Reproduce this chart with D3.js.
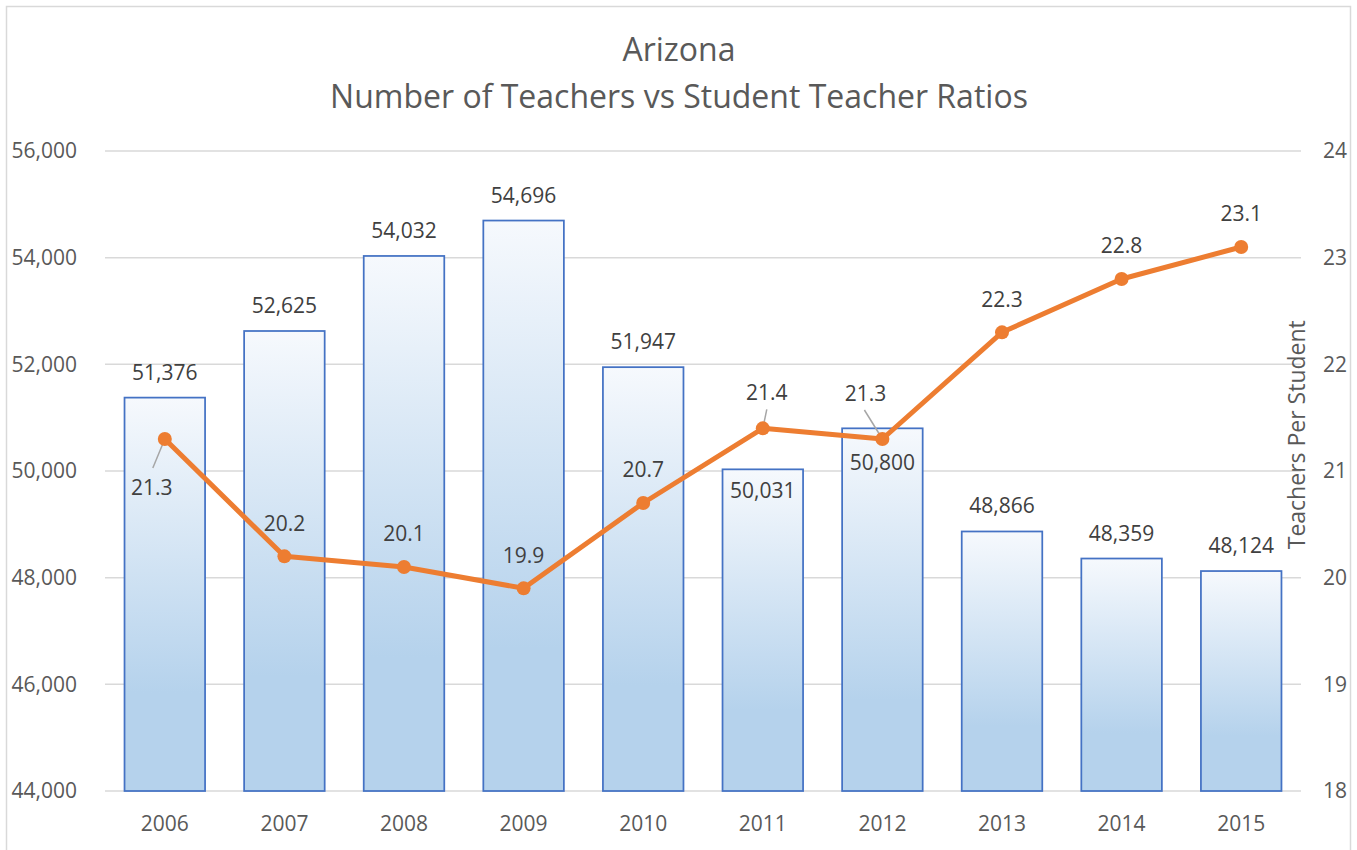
<!DOCTYPE html>
<html>
<head>
<meta charset="utf-8">
<script src="https://cdn.jsdelivr.net/npm/d3@7"></script>
<style>
  body { margin: 0; background: #fff; }
  svg { display: block; font-family: "Open Sans", Lato, sans-serif; }
</style>
</head>
<body>
<svg id="chart" width="1357" height="850"></svg>
<script>
// chart data
const years = ["2006", "2007", "2008", "2009", "2010", "2011", "2012", "2013", "2014", "2015"];
const teachers = [51376, 52625, 54032, 54696, 51947, 50031, 50800, 48866, 48359, 48124];
const ratios = [21.3, 20.2, 20.1, 19.9, 20.7, 21.4, 21.3, 22.3, 22.8, 23.1];
const leftTicks = [44000, 46000, 48000, 50000, 52000, 54000, 56000];
const rightTicks = [18, 19, 20, 21, 22, 23, 24];

let svg = d3.select("#chart");
let margin = {left: 105, right: 56, top: 151, bottom: 59};
let W = 1357, H = 850;
let fontFamily = "'Open Sans', Lato, sans-serif";

// outer frame
svg.append("rect")
  .attr("x", 6.5).attr("y", 6.5)
  .attr("width", 1344).attr("height", 860)
  .attr("fill", "#fff")
  .attr("stroke", "#d9d9d9")
  .attr("stroke-width", 1.5);

// title
let title = svg.append("text")
  .attr("text-anchor", "middle")
  .attr("fill", "#595959")
  .style("font-size", "32px");
title.append("tspan").attr("x", 679).attr("y", 61).text("Arizona");
title.append("tspan").attr("x", 679).attr("y", 108).text("Number of Teachers vs Student Teacher Ratios");

// scales
let x = d3.scaleBand()
  .domain(years)
  .range([margin.left, W - margin.right])
  .paddingInner(0.314)
  .paddingOuter(0.157);
let yLeft = d3.scaleLinear().domain([44000, 56000]).range([H - margin.bottom, margin.top]);
let yRight = d3.scaleLinear().domain([18, 24]).range([H - margin.bottom, margin.top]);

// gradient for bars
let grad = svg.append("defs").append("linearGradient")
  .attr("id", "barGrad")
  .attr("x1", 0).attr("y1", 0).attr("x2", 0).attr("y2", 1);
grad.append("stop").attr("offset", "0%").attr("stop-color", "#f6f9fd");
grad.append("stop").attr("offset", "75%").attr("stop-color", "#b5d2ec");
grad.append("stop").attr("offset", "100%").attr("stop-color", "#b5d2ec");

// gridlines
svg.append("g")
  .selectAll("line")
  .data(leftTicks)
  .join("line")
  .attr("x1", margin.left).attr("x2", W - margin.right)
  .attr("y1", d => yLeft(d)).attr("y2", d => yLeft(d))
  .attr("stroke", "#d9d9d9")
  .attr("stroke-width", 1.5);

// left axis
let leftAxis = svg.append("g")
  .attr("transform", `translate(${margin.left - 28},0)`)
  .call(d3.axisLeft(yLeft).tickValues(leftTicks).tickFormat(d3.format(",")).tickSize(0).tickPadding(0));
leftAxis.select(".domain").remove();
leftAxis.selectAll("text")
  .attr("fill", "#595959")
  .style("font-size", "21px")
  .style("font-family", fontFamily);

// right axis
let rightAxis = svg.append("g")
  .attr("transform", `translate(${W - margin.right + 22},0)`)
  .call(d3.axisRight(yRight).tickValues(rightTicks).tickFormat(d3.format("d")).tickSize(0).tickPadding(0));
rightAxis.select(".domain").remove();
rightAxis.selectAll("text")
  .attr("fill", "#595959")
  .style("font-size", "21px")
  .style("font-family", fontFamily);

// bottom axis
let bottomAxis = svg.append("g")
  .attr("transform", `translate(0,${H - margin.bottom})`)
  .call(d3.axisBottom(x).tickSize(0).tickPadding(25));
bottomAxis.select(".domain").remove();
bottomAxis.selectAll("text")
  .attr("fill", "#595959")
  .style("font-size", "21px")
  .style("font-family", fontFamily);

// right axis title
svg.append("text")
  .attr("transform", `translate(1305,${yRight(21.34)}) rotate(-90)`)
  .attr("text-anchor", "middle")
  .attr("fill", "#595959")
  .style("font-size", "23px")
  .text("Teachers Per Student");

// bars
let barData = years.map((y, i) => ({year: y, value: teachers[i]}));
svg.append("g")
  .selectAll("rect")
  .data(barData)
  .join("rect")
  .attr("x", d => x(d.year) + 0.75)
  .attr("y", d => yLeft(d.value))
  .attr("width", x.bandwidth() - 1.5)
  .attr("height", d => yLeft(44000) - yLeft(d.value))
  .attr("fill", "url(#barGrad)")
  .attr("stroke", "#4472c4")
  .attr("stroke-width", 1.75);

// bar labels, a couple sit inside the bar to avoid the line labels
let barLabelShift = {"2011": 47, "2012": 60};
svg.append("g")
  .selectAll("text")
  .data(barData)
  .join("text")
  .attr("x", d => x(d.year) + x.bandwidth() / 2)
  .attr("y", d => yLeft(d.value) - 18 + (barLabelShift[d.year] || 0))
  .attr("text-anchor", "middle")
  .attr("fill", "#404040")
  .style("font-size", "21px")
  .text(d => d3.format(",")(d.value));

// line series
let lineData = years.map((y, i) => ({year: y, value: ratios[i]}));
let cx = d => x(d.year) + x.bandwidth() / 2;

// label placements [dx, dy] and leader line starts
let lineLabelPos = {"2006": [-13, 49], "2011": [4, -36], "2012": [-17, -45]};
let leaders = {"2006": [-12, 29], "2011": [4, -19], "2012": [-18, -29]};

svg.append("g")
  .selectAll("line")
  .data(lineData.filter(d => leaders[d.year]))
  .join("line")
  .attr("x1", d => cx(d) + leaders[d.year][0])
  .attr("y1", d => yRight(d.value) + leaders[d.year][1])
  .attr("x2", d => cx(d))
  .attr("y2", d => yRight(d.value))
  .attr("stroke", "#a6a6a6")
  .attr("stroke-width", 1.5);

let line = d3.line()
  .x(d => cx(d))
  .y(d => yRight(d.value));

svg.append("path")
  .datum(lineData)
  .attr("d", line)
  .attr("fill", "none")
  .attr("stroke", "#ed7d31")
  .attr("stroke-width", 5)
  .attr("stroke-linejoin", "round");

svg.append("g")
  .selectAll("circle")
  .data(lineData)
  .join("circle")
  .attr("cx", d => cx(d))
  .attr("cy", d => yRight(d.value))
  .attr("r", 7)
  .attr("fill", "#ed7d31");

svg.append("g")
  .selectAll("text")
  .data(lineData)
  .join("text")
  .attr("x", d => cx(d) + (lineLabelPos[d.year] ? lineLabelPos[d.year][0] : 0))
  .attr("y", d => yRight(d.value) + (lineLabelPos[d.year] ? lineLabelPos[d.year][1] : -33))
  .attr("dy", "0.35em")
  .attr("text-anchor", "middle")
  .attr("fill", "#404040")
  .style("font-size", "21px")
  .text(d => d.value.toFixed(1));
</script>
</body>
</html>
